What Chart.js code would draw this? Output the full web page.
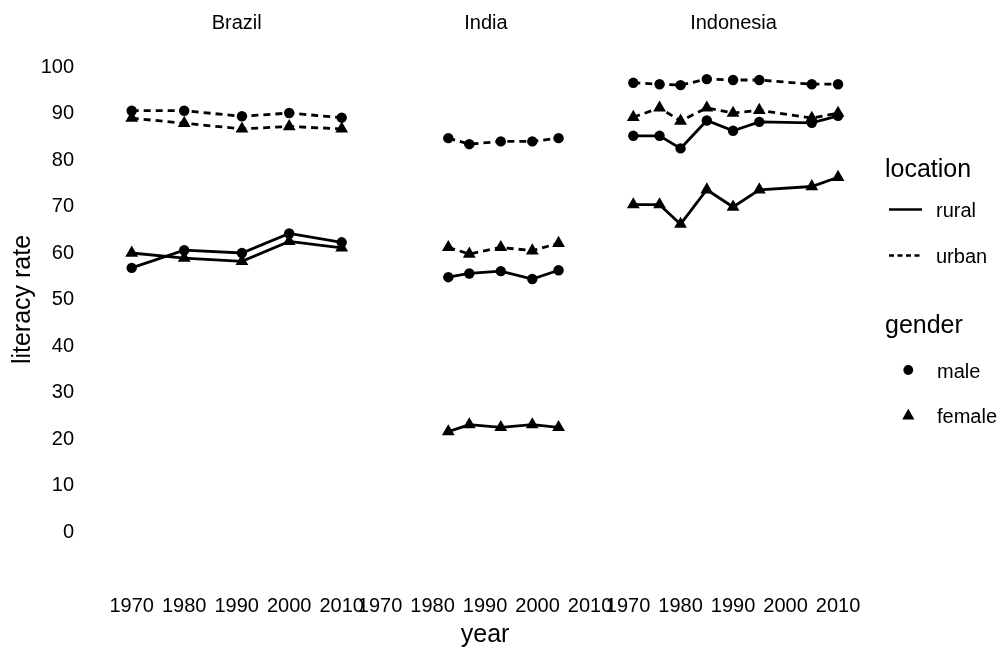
<!DOCTYPE html>
<html>
<head>
<meta charset="utf-8">
<script src="https://cdn.jsdelivr.net/npm/chart.js@4.4.0/dist/chart.umd.min.js"></script>
<style>
  body { margin: 0; background: #fff; }
  #wrap { position: relative; width: 1004px; height: 648px; overflow: hidden; }
  canvas { position: absolute; top: 0; }
  #overlay { position: absolute; left: 0; top: 0; font-family: 'Liberation Sans', Arial, sans-serif; }
</style>
</head>
<body>
<div id="wrap">
  <canvas id="brazil" width="400" height="648" style="left:0px"></canvas>
  <canvas id="india" width="320" height="648" style="left:320px"></canvas>
  <canvas id="indonesia" width="320" height="648" style="left:570px"></canvas>
  <svg id="overlay" width="1004" height="648">
    <g font-size="20" fill="#000" text-anchor="middle">
      <text x="236.7" y="29">Brazil</text>
      <text x="486" y="29">India</text>
      <text x="733.5" y="29">Indonesia</text>
    </g>
    <text x="885" y="177" font-size="25">location</text>
    <line x1="889" y1="209.5" x2="922" y2="209.5" stroke="#000" stroke-width="2.7"/>
    <text x="936" y="216.5" font-size="20">rural</text>
    <line x1="889" y1="255.5" x2="922" y2="255.5" stroke="#000" stroke-width="2.7" stroke-dasharray="5 3.5"/>
    <text x="936" y="263.3" font-size="20">urban</text>
    <text x="885" y="333" font-size="25">gender</text>
    <circle cx="908.3" cy="370" r="4.9" fill="#000"/>
    <text x="937" y="378" font-size="20">male</text>
    <polygon points="908.3,408.8 914.4,419.4 902.2,419.4" fill="#000"/>
    <text x="937" y="423" font-size="20">female</text>
  </svg>
</div>
<script>
// literacy rate by year, one set of arrays per country
const brazilYears = [1970, 1980, 1991, 2000, 2010];
const brazilUrbanMale = [90.6, 90.6, 89.4, 90.1, 89.1];
const brazilUrbanFemale = [89.0, 87.9, 86.7, 87.2, 86.7];
const brazilRuralMale = [56.8, 60.6, 60.0, 64.2, 62.3];
const brazilRuralFemale = [60.0, 58.9, 58.2, 62.5, 61.1];

const indiaYears = [1983, 1987, 1993, 1999, 2004];
const indiaUrbanMale = [84.7, 83.4, 84.0, 84.0, 84.7];
const indiaUrbanFemale = [61.2, 59.8, 61.2, 60.5, 62.1];
const indiaRuralMale = [54.8, 55.6, 56.1, 54.4, 56.3];
const indiaRuralFemale = [21.6, 23.1, 22.5, 23.1, 22.5];

const indonesiaYears = [1971, 1976, 1980, 1985, 1990, 1995, 2005, 2010];
const indonesiaUrbanMale = [96.6, 96.3, 96.1, 97.4, 97.2, 97.2, 96.3, 96.3];
const indonesiaUrbanFemale = [89.2, 91.2, 88.4, 91.2, 90.1, 90.7, 89.0, 90.1];
const indonesiaRuralMale = [85.2, 85.2, 82.5, 88.5, 86.3, 88.2, 88.0, 89.5];
const indonesiaRuralFemale = [70.4, 70.4, 66.2, 73.6, 69.9, 73.6, 74.3, 76.3];

const yearTicks = [1970, 1980, 1990, 2000, 2010];
const rateTicks = [0, 10, 20, 30, 40, 50, 60, 70, 80, 90, 100];

Chart.defaults.font.family = "'Liberation Sans', Arial, sans-serif";
Chart.defaults.color = '#000';

function series(years, values, male, urban) {
    return {
        data: years.map((x, i) => ({ x: x, y: values[i] })),
        borderColor: '#000',
        backgroundColor: '#000',
        borderWidth: 2.8,
        borderDash: urban ? [7, 5] : [],
        pointStyle: male ? 'circle' : 'triangle',
        pointRadius: male ? 5.2 : 7.4,
        pointBorderWidth: 0,
        pointBackgroundColor: '#000'
    };
}

function panel(id, years, um, uf, rm, rf, pad, showY, showX) {
    new Chart(document.getElementById(id), {
        type: 'line',
        data: {
            datasets: [
                series(years, um, true, true),
                series(years, uf, false, true),
                series(years, rm, true, false),
                series(years, rf, false, false)
            ]
        },
        options: {
            responsive: false,
            animation: false,
            events: [],
            layout: { padding: { left: pad[0], right: pad[1], top: 43.75, bottom: 0.75 } },
            plugins: { legend: { display: false }, tooltip: { enabled: false } },
            scales: {
                x: {
                    type: 'linear',
                    min: 1968,
                    max: 2012,
                    afterBuildTicks: s => { s.ticks = yearTicks.map(v => ({ value: v })); },
                    afterFit: s => { s.height = 92; s.paddingLeft = 0; s.paddingRight = 0; },
                    grid: { display: false, drawTicks: false },
                    border: { display: false },
                    ticks: {
                        font: { size: 20 },
                        padding: 39.4,
                        maxRotation: 0,
                        autoSkip: false,
                        callback: v => String(v)
                    },
                    title: { display: showX, text: 'year', font: { size: 25, lineHeight: 1 }, padding: { top: 0, bottom: 0 } }
                },
                y: {
                    type: 'linear',
                    display: showY,
                    min: -5,
                    max: 105,
                    afterBuildTicks: s => { s.ticks = rateTicks.map(v => ({ value: v })); },
                    afterFit: s => { if (showY) s.width = 121.2; s.paddingTop = 0; s.paddingBottom = 0; },
                    grid: { display: false, drawTicks: false },
                    border: { display: false },
                    ticks: { font: { size: 20 }, padding: 47.2 },
                    title: { display: true, text: 'literacy rate', font: { size: 25 }, padding: { top: 8, bottom: 0 } }
                }
            }
        }
    });
}

panel('brazil', brazilYears, brazilUrbanMale, brazilUrbanFemale, brazilRuralMale, brazilRuralFemale, [0, 47.8], true, false);
panel('india', indiaYears, indiaUrbanMale, indiaUrbanFemale, indiaRuralMale, indiaRuralFemale, [49.55, 39.45], false, true);
panel('indonesia', indonesiaYears, indonesiaUrbanMale, indonesiaUrbanFemale, indonesiaRuralMale, indonesiaRuralFemale, [47.55, 41.45], false, false);
</script>
</body>
</html>
